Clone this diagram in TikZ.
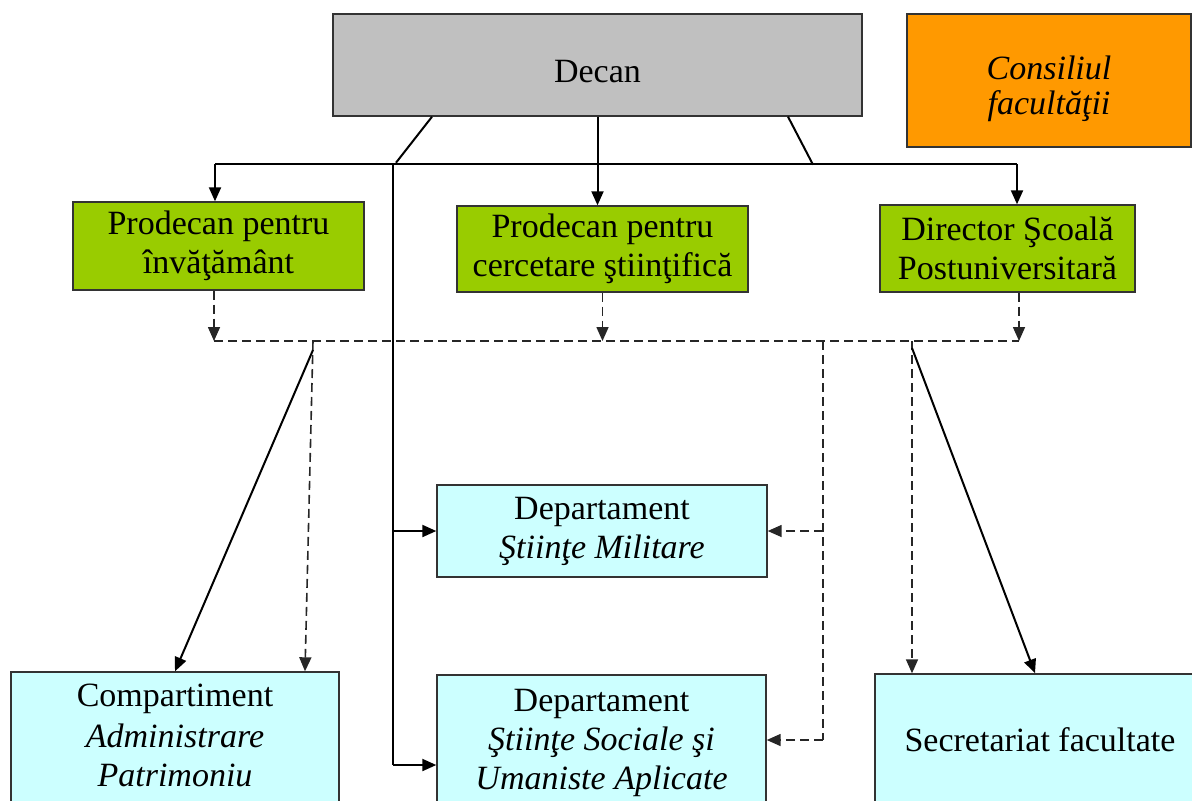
\documentclass[tikz,border=0pt]{standalone}
\usepackage{fontspec}
\setmainfont{Liberation Serif}
\usetikzlibrary{arrows.meta,positioning}
\definecolor{decangray}{HTML}{C0C0C0}
\definecolor{councilorange}{HTML}{FF9900}
\definecolor{deangreen}{HTML}{99CC00}
\definecolor{unitcyan}{HTML}{CCFFFF}
\newcommand{\lowered}[2]{\raisebox{-#1}[\height][\depth]{#2}}

\begin{document}
\begin{tikzpicture}[x=0.5pt,y=-0.5pt,
  box/.style={draw=black!80,line width=0.7pt,align=center,inner sep=2pt,
    font=\fontsize{17pt}{19.5pt}\selectfont},
  link/.style={black,line width=1pt},
  lead/.style={link,-{Triangle[length=7pt,width=6pt]}},
  dashlink/.style={black!85,line width=0.8pt,dash pattern=on 4.5pt off 2.5pt},
  dashlead/.style={dashlink,-{Triangle[length=7pt,width=6pt]}}]
\useasboundingbox (0,0) rectangle (1192,800);
\clip (0,0) rectangle (1192,800);

% conducere
\node[box,fill=decangray,minimum width=264.5pt,minimum height=51pt] (decan) at (597.5,65)
  {\lowered{3.5pt}{Decan}};
\node[box,fill=councilorange,minimum width=142pt,minimum height=66.5pt] (council) at (1049,80.5)
  {\lowered{5pt}{\textit{Consiliul}}\\\lowered{3pt}{\textit{facultăţii}}};
\node[box,fill=deangreen,minimum width=145.5pt,minimum height=44pt] (prodidactic) at (218.5,246)
  {Prodecan pentru\\învăţământ};
\node[box,fill=deangreen,minimum width=145.5pt,minimum height=43pt] (prodresearch) at (602.5,249)
  {Prodecan pentru\\cercetare ştiinţifică};
\node[box,fill=deangreen,minimum width=127.5pt,minimum height=43.5pt] (director) at (1007.5,248.5)
  {Director Şcoală\\Postuniversitară};

% structuri
\node[box,fill=unitcyan,minimum width=165pt,minimum height=46pt] (depmil) at (602,531)
  {Departament\\\textit{Ştiinţe Militare}};
\node[box,fill=unitcyan,minimum width=164.5pt,minimum height=68pt] (depsoc) at (601.5,743)
  {Departament\\\textit{Ştiinţe Sociale şi}\\\textit{Umaniste Aplicate}};
\node[box,fill=unitcyan,minimum width=164pt,minimum height=68pt] (admin) at (175,740)
  {\lowered{-3pt}{Compartiment}\\\lowered{-2pt}{\textit{Administrare}}\\\lowered{-2pt}{\textit{Patrimoniu}}};
\node[box,fill=unitcyan,minimum width=165pt,minimum height=66pt] (secr) at (1040,740)
  {Secretariat facultate};

% subordonare directa
\coordinate (busl) at (215,164);
\coordinate (busr) at (1017,164);
\coordinate (trunk) at (393,164);
\coordinate (trunkend) at (393,765);
\draw[link] (busl) -- (busr);
\draw[link] (decan.south) ++(-165.5,0) -- ++(-36,46);
\draw[link] (decan.south) ++(190.5,0) -- ++(25,48);
\draw[lead] (busl) -- (busl |- prodidactic.north);
\draw[lead] (decan.south) -- (decan.south |- prodresearch.north);
\draw[lead] (busr) -- (busr |- director.north);
\draw[link] (trunk) -- (trunkend);
\draw[lead] (trunk |- depmil.west) -- (depmil.west);
\draw[lead] (trunkend) -- (trunkend -| depsoc.west);

% coordonare
\coordinate (dbusl) at (214,341);
\coordinate (dbusr) at (1019,341);
\coordinate (dadmin) at (313,341);
\coordinate (ddep) at (823,341);
\coordinate (ddepend) at (823,740);
\coordinate (dsecr) at (912,341);
\draw[dashlink] (dbusl) -- (dbusr);
\draw[dashlead] (dbusl |- prodidactic.south) -- (dbusl);
\draw[dashlead] (prodresearch.south) -- (prodresearch.south |- dbusl);
\draw[dashlead] (dbusr |- director.south) -- (dbusr);
\draw[dashlead] (dadmin) -- ([xshift=65pt]admin.north);
\draw[lead] (dadmin) ++(0,9) -- (admin.north);
\draw[dashlink] (ddep) -- (ddepend);
\draw[dashlead] (ddep |- depmil.east) -- (depmil.east);
\draw[dashlead] (ddepend) -- (ddepend -| depsoc.east);
\draw[dashlead] (dsecr) -- (dsecr |- secr.north);
\draw[lead] (dsecr) ++(0,7) -- ([xshift=-2.5pt]secr.north);
\end{tikzpicture}
\end{document}
